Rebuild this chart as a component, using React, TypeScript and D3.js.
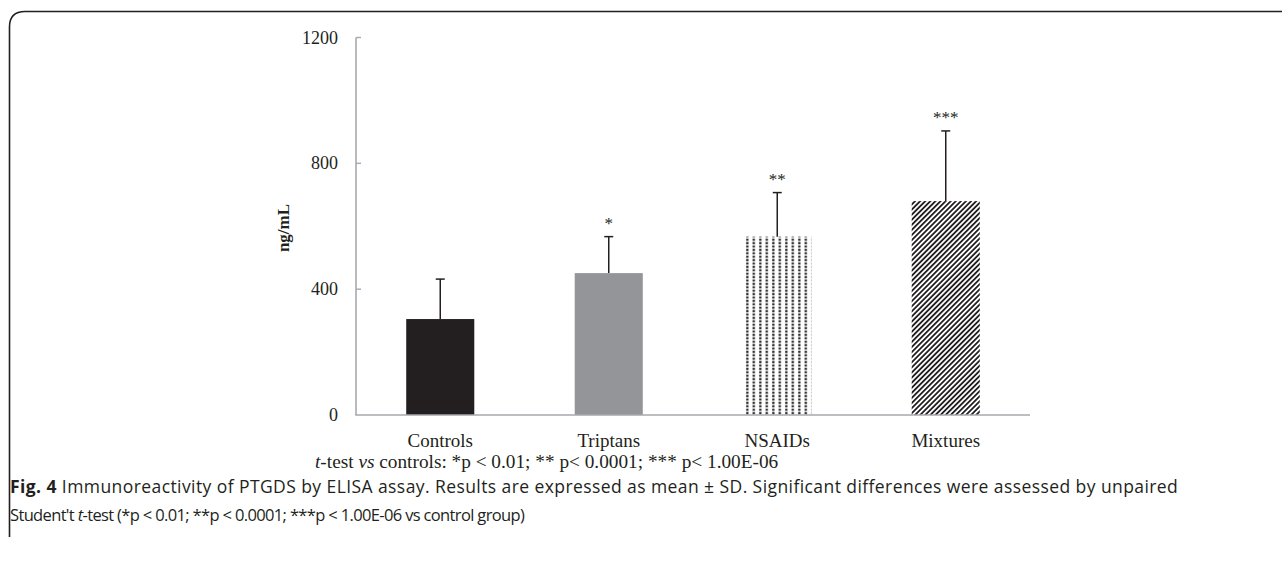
import React from "react";
import * as d3 from "d3";

const categories = ["Controls", "Triptans", "NSAIDs", "Mixtures"];
const means = [305, 451, 567, 680];
const sds = [127, 116, 140, 223];
const stars = ["", "*", "**", "***"];
const yTicks = [0, 400, 800, 1200];
const yLabel = "ng/mL";

const W = 1282;
const H = 567;
const serif = "'Liberation Serif', 'Times New Roman', serif";
const sans = "'Open Sans', 'Noto Sans', sans-serif";
const ink = "#231f20";
const axisGray = "#a7a9ac";

export default function App() {
  const x = d3
    .scaleBand<string>()
    .domain(categories)
    .range([356, 1030])
    .paddingInner(0.596)
    .paddingOuter(0.298);
  const y = d3.scaleLinear().domain([0, 1200]).range([415, 37.5]);
  const fills = [ink, "#939598", "url(#dots)", "url(#stripes)"];

  return (
    <svg
      width={W}
      height={H}
      style={{ position: "absolute", left: 0, top: 0, background: "#fff" }}
    >
      <defs>
        <pattern id="dots" patternUnits="userSpaceOnUse" width={6.5} height={3.4} x={745} y={0}>
          <rect x={0} y={0} width={6.5} height={3.4} fill="#fff" />
          <rect x={1.2} y={0.6} width={2.2} height={2.2} fill={ink} />
        </pattern>
        <pattern
          id="stripes"
          patternUnits="userSpaceOnUse"
          width={3.6}
          height={10}
          patternTransform="rotate(45)"
        >
          <rect x={0} y={0} width={3.6} height={10} fill="#fff" />
          <rect x={0} y={0} width={1.8} height={10} fill={ink} />
        </pattern>
      </defs>

      {/* frame */}
      <path
        d={`M 9.5 537 L 9.5 27 Q 9.5 11.5 25 11.5 L ${W} 11.5`}
        fill="none"
        stroke={ink}
        strokeWidth={1.6}
      />

      {/* bars */}
      {categories.map((c, i) => (
        <rect
          key={c}
          x={x(c)}
          y={y(means[i])}
          width={x.bandwidth()}
          height={y(0) - y(means[i])}
          fill={fills[i]}
        />
      ))}

      {/* error bars */}
      {categories.map((c, i) => {
        const cx = (x(c) as number) + x.bandwidth() / 2;
        return (
          <g key={c} stroke={ink} strokeWidth={1.5}>
            <line x1={cx} x2={cx} y1={y(means[i])} y2={y(means[i] + sds[i])} />
            <line x1={cx - 4.5} x2={cx + 4.5} y1={y(means[i] + sds[i])} y2={y(means[i] + sds[i])} />
          </g>
        );
      })}

      {/* significance stars */}
      {categories.map((c, i) => (
        <text
          key={c}
          x={(x(c) as number) + x.bandwidth() / 2}
          y={y(means[i] + sds[i]) - 8}
          textAnchor="middle"
          fontFamily={serif}
          fontSize={17}
          fill={ink}
        >
          {stars[i]}
        </text>
      ))}

      {/* axes */}
      <line x1={356} x2={356} y1={y(1200)} y2={y(0)} stroke={axisGray} strokeWidth={1.6} />
      <line x1={355.2} x2={1030} y1={y(0)} y2={y(0)} stroke={axisGray} strokeWidth={1.6} />
      {yTicks.map((t) => (
        <g key={t}>
          {t > 0 && (
            <line x1={356} x2={361} y1={y(t)} y2={y(t)} stroke={axisGray} strokeWidth={1.4} />
          )}
          <text
            x={338}
            y={y(t) + 6}
            textAnchor="end"
            fontFamily={serif}
            fontSize={18}
            fill={ink}
          >
            {t}
          </text>
        </g>
      ))}
      {categories.map((c) => (
        <text
          key={c}
          x={(x(c) as number) + x.bandwidth() / 2}
          y={447}
          textAnchor="middle"
          fontFamily={serif}
          fontSize={19}
          fill={ink}
        >
          {c}
        </text>
      ))}
      <text
        transform={`translate(289, 228) rotate(-90)`}
        textAnchor="middle"
        fontFamily={serif}
        fontSize={17}
        fontWeight="bold"
        fill={ink}
      >
        {yLabel}
      </text>

      {/* note */}
      <text x={315} y={468} fontFamily={serif} fontSize={19.3} fill={ink}>
        <tspan fontStyle="italic">t</tspan>
        <tspan>-test </tspan>
        <tspan fontStyle="italic">vs</tspan>
        <tspan> controls: *p &lt; 0.01; ** p&lt; 0.0001; *** p&lt; 1.00E-06</tspan>
      </text>

      {/* caption */}
      <text x={10} y={493} fontFamily={sans} fontSize={17.5} fill={ink} letterSpacing={0.42}>
        <tspan fontWeight="bold">Fig. 4</tspan>
        <tspan> Immunoreactivity of PTGDS by ELISA assay. Results are expressed as mean ± SD. Significant differences were assessed by unpaired</tspan>
      </text>
      <text x={10} y={521} fontFamily={sans} fontSize={16.5} fill={ink} letterSpacing={-0.65}>
        <tspan>Student't </tspan>
        <tspan fontStyle="italic">t</tspan>
        <tspan>-test (*p &lt; 0.01; **p &lt; 0.0001; ***p &lt; 1.00E-06 vs control group)</tspan>
      </text>
    </svg>
  );
}
